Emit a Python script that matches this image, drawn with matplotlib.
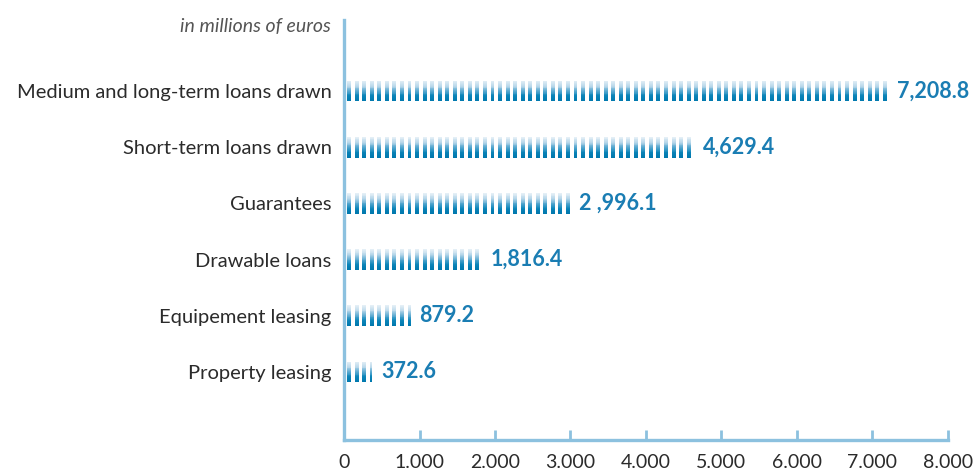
import matplotlib
matplotlib.use("Agg")
import matplotlib.pyplot as plt
import numpy as np
from matplotlib.colors import LinearSegmentedColormap

plt.rcParams["font.family"] = ["Lato", "DejaVu Sans"]

# ── Data (millions of euros) ─────────────────────────────────────────────────
categories = [
    "Property leasing",
    "Equipement leasing",
    "Drawable loans",
    "Guarantees",
    "Short-term loans drawn",
    "Medium and long-term loans drawn",
]
values = [372.6, 879.2, 1816.4, 2996.1, 4629.4, 7208.8]
value_labels = ["372.6", "879.2", "1,816.4", "2 ,996.1", "4,629.4", "7,208.8"]
x_ticks = [0, 1000, 2000, 3000, 4000, 5000, 6000, 7000, 8000]
x_ticklabels = ["0", "1.000", "2.000", "3.000", "4.000", "5.000", "6.000", "7.000", "8.000"]

# ── Style ────────────────────────────────────────────────────────────────────
AXIS_BLUE = "#8cc1df"
LABEL_BLUE = "#1a7db3"
TEXT_DARK = "#2b2b2b"
STRIPE_STEP = 100      # one stripe per 100 M€
STRIPE_OFFSET = 40
STRIPE_WIDTH = 52
BAR_HEIGHT = 0.37
N_LEVELS = 24

cmap = LinearSegmentedColormap.from_list(
    "stripe", ["#0078ad", "#0a84b8", "#5aa9d0", "#b9d8ea", "#e4eff6"])

fig = plt.figure(figsize=(9.75, 4.7), dpi=100)
ax = fig.add_axes([0.353, 0.064, 0.619, 0.893])

ypos = np.arange(len(categories))

for y, val, lab in zip(ypos, values, value_labels):
    starts = np.arange(STRIPE_OFFSET, val, STRIPE_STEP)
    widths = np.minimum(STRIPE_WIDTH, val - starts)
    segs = list(zip(starts, widths))
    # vertical gradient: dark at the bottom, pale at the top
    h = BAR_HEIGHT / N_LEVELS
    for i in range(N_LEVELS):
        y0 = y - BAR_HEIGHT / 2 + i * h
        ax.broken_barh(segs, (y0, h * 1.02), facecolors=cmap(i / (N_LEVELS - 1)),
                       edgecolor="none", zorder=2)
    ax.text(val + 120, y, lab, va="center", ha="left", fontsize=15.5,
            fontweight="bold", color=LABEL_BLUE)

ax.set_xlim(0, 8000)
ax.set_ylim(-1.21, 6.26)
ax.set_xticks(x_ticks)
ax.set_xticklabels(x_ticklabels, fontsize=14, color=TEXT_DARK)
ax.set_yticks(ypos)
ax.set_yticklabels(categories, fontsize=14.5, color=TEXT_DARK)

ax.tick_params(axis="x", direction="in", length=7, width=2, color=AXIS_BLUE, pad=10)
ax.tick_params(axis="y", length=0, pad=9)

for side in ("top", "right"):
    ax.spines[side].set_visible(False)
for side in ("left", "bottom"):
    ax.spines[side].set_color(AXIS_BLUE)
    ax.spines[side].set_linewidth(2.4)

ax.text(-0.022, 0.985, "in millions of euros", transform=ax.transAxes,
        ha="right", va="center", fontsize=14, style="italic", color="#555555")

fig.savefig("out.png", dpi=100)
